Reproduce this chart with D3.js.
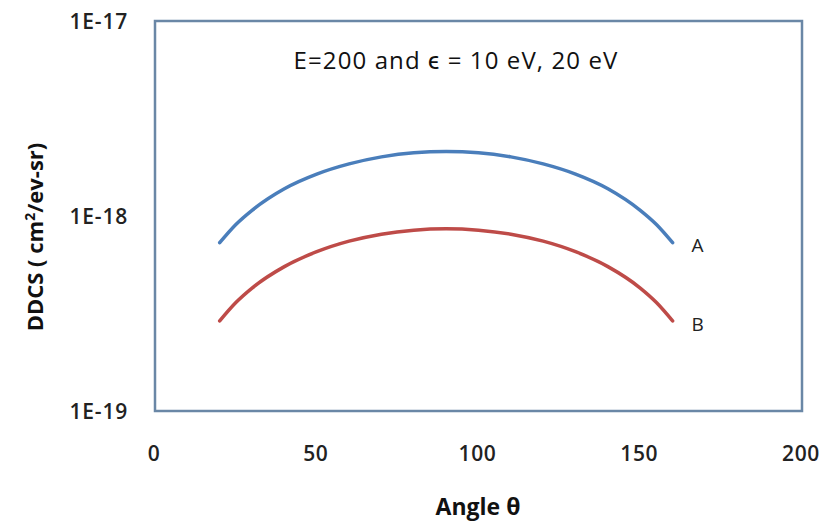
<!DOCTYPE html>
<html>
<head>
<meta charset="utf-8">
<script src="https://cdn.jsdelivr.net/npm/d3@7"></script>
<style>
  body { margin: 0; background: #fff; }
  svg { display: block; font-family: "Open Sans", Lato, sans-serif; }
</style>
</head>
<body>
<div id="chart"></div>
<script>
'use strict';

var angles = [20, 25, 30, 40, 50, 60, 70, 80, 90, 100, 110, 120, 130, 140, 150, 155, 160];
var seriesA = [7.3e-19, 9.05e-19, 1.07e-18, 1.38e-18, 1.64e-18, 1.85e-18, 2.01e-18, 2.11e-18, 2.14e-18,
               2.11e-18, 2.01e-18, 1.85e-18, 1.64e-18, 1.38e-18, 1.07e-18, 9.05e-19, 7.3e-19];
var seriesB = [2.9e-19, 3.6e-19, 4.27e-19, 5.5e-19, 6.56e-19, 7.43e-19, 8.07e-19, 8.46e-19, 8.6e-19,
               8.46e-19, 8.07e-19, 7.43e-19, 6.56e-19, 5.5e-19, 4.27e-19, 3.6e-19, 2.9e-19];
var xTicks = [0, 50, 100, 150, 200];
var yTicks = [1e-19, 1e-18, 1e-17];
var yTickLabels = ['1E-19', '1E-18', '1E-17'];
var seriesNames = ['A', 'B'];

var W = 826, H = 528;
var margin = {top: 21, right: 24, bottom: 117, left: 155};
var width = W - margin.left - margin.right;
var height = H - margin.top - margin.bottom;

var svg = d3.select('#chart').append('svg')
  .attr('width', W)
  .attr('height', H);

var x = d3.scaleLinear().domain([0, 200]).range([margin.left, margin.left + width]);
var y = d3.scaleLog().domain([1e-19, 1e-17]).range([margin.top + height, margin.top]);

// plot frame
svg.append('rect')
  .attr('x', x(0))
  .attr('y', y(1e-17))
  .attr('width', x(200) - x(0))
  .attr('height', y(1e-19) - y(1e-17))
  .attr('fill', '#fff')
  .attr('stroke', '#6a87a6')
  .attr('stroke-width', 2.5);

// y tick labels
svg.append('g').selectAll('text')
  .data(yTicks)
  .enter().append('text')
  .attr('x', 128)
  .attr('y', function(d) { return y(d); })
  .attr('dy', '0.36em')
  .attr('text-anchor', 'end')
  .attr('font-size', 21)
  .attr('font-weight', 600)
  .attr('letter-spacing', 0.8)
  .attr('fill', '#222')
  .text(function(d, i) { return yTickLabels[i]; });

// x tick labels
svg.append('g').selectAll('text')
  .data(xTicks)
  .enter().append('text')
  .attr('x', function(d) { return x(d) - 1; })
  .attr('y', 461)
  .attr('text-anchor', 'middle')
  .attr('font-size', 21)
  .attr('font-weight', 600)
  .attr('letter-spacing', 0.6)
  .attr('fill', '#222')
  .text(function(d) { return d; });

// lines (smooth, spacing-aware)
var line = d3.line()
  .x(function(d) { return x(d[0]); })
  .y(function(d) { return y(d[1]); })
  .curve(d3.curveMonotoneX);

var series = [
  {name: seriesNames[0], values: seriesA, color: '#4a7ebb'},
  {name: seriesNames[1], values: seriesB, color: '#be4b48'}
];

series.forEach(function(s) {
  var pts = angles.map(function(a, i) { return [a, s.values[i]]; });
  svg.append('path')
    .datum(pts)
    .attr('d', line)
    .attr('fill', 'none')
    .attr('stroke', s.color)
    .attr('stroke-width', 3.5)
    .attr('stroke-linecap', 'round');

  svg.append('text')
    .attr('x', x(angles[angles.length - 1]) + 19)
    .attr('y', y(s.values[s.values.length - 1]) + 3)
    .attr('dy', '0.36em')
    .attr('font-size', 19)
    .attr('fill', '#222')
    .text(s.name);
});

// title inside plot
svg.append('text')
  .attr('x', 456)
  .attr('y', 69)
  .attr('text-anchor', 'middle')
  .attr('font-size', 24)
  .attr('font-weight', 500)
  .attr('letter-spacing', 1.1)
  .attr('fill', '#111')
  .text('E=200 and \u03f5 = 10 eV, 20 eV');

// axis titles
svg.append('text')
  .attr('x', 478)
  .attr('y', 515)
  .attr('text-anchor', 'middle')
  .attr('font-size', 23)
  .attr('font-weight', 'bold')
  .attr('fill', '#111')
  .text('Angle \u03b8');

var yTitle = svg.append('text')
  .attr('transform', 'translate(43,237) rotate(-90)')
  .attr('text-anchor', 'middle')
  .attr('font-size', 22)
  .attr('font-weight', 'bold')
  .attr('fill', '#111');
yTitle.append('tspan').text('DDCS ( cm');
yTitle.append('tspan').attr('dy', -8).attr('font-size', 14).text('2');
yTitle.append('tspan').attr('dy', 8).text('/ev-sr)');
</script>
</body>
</html>
